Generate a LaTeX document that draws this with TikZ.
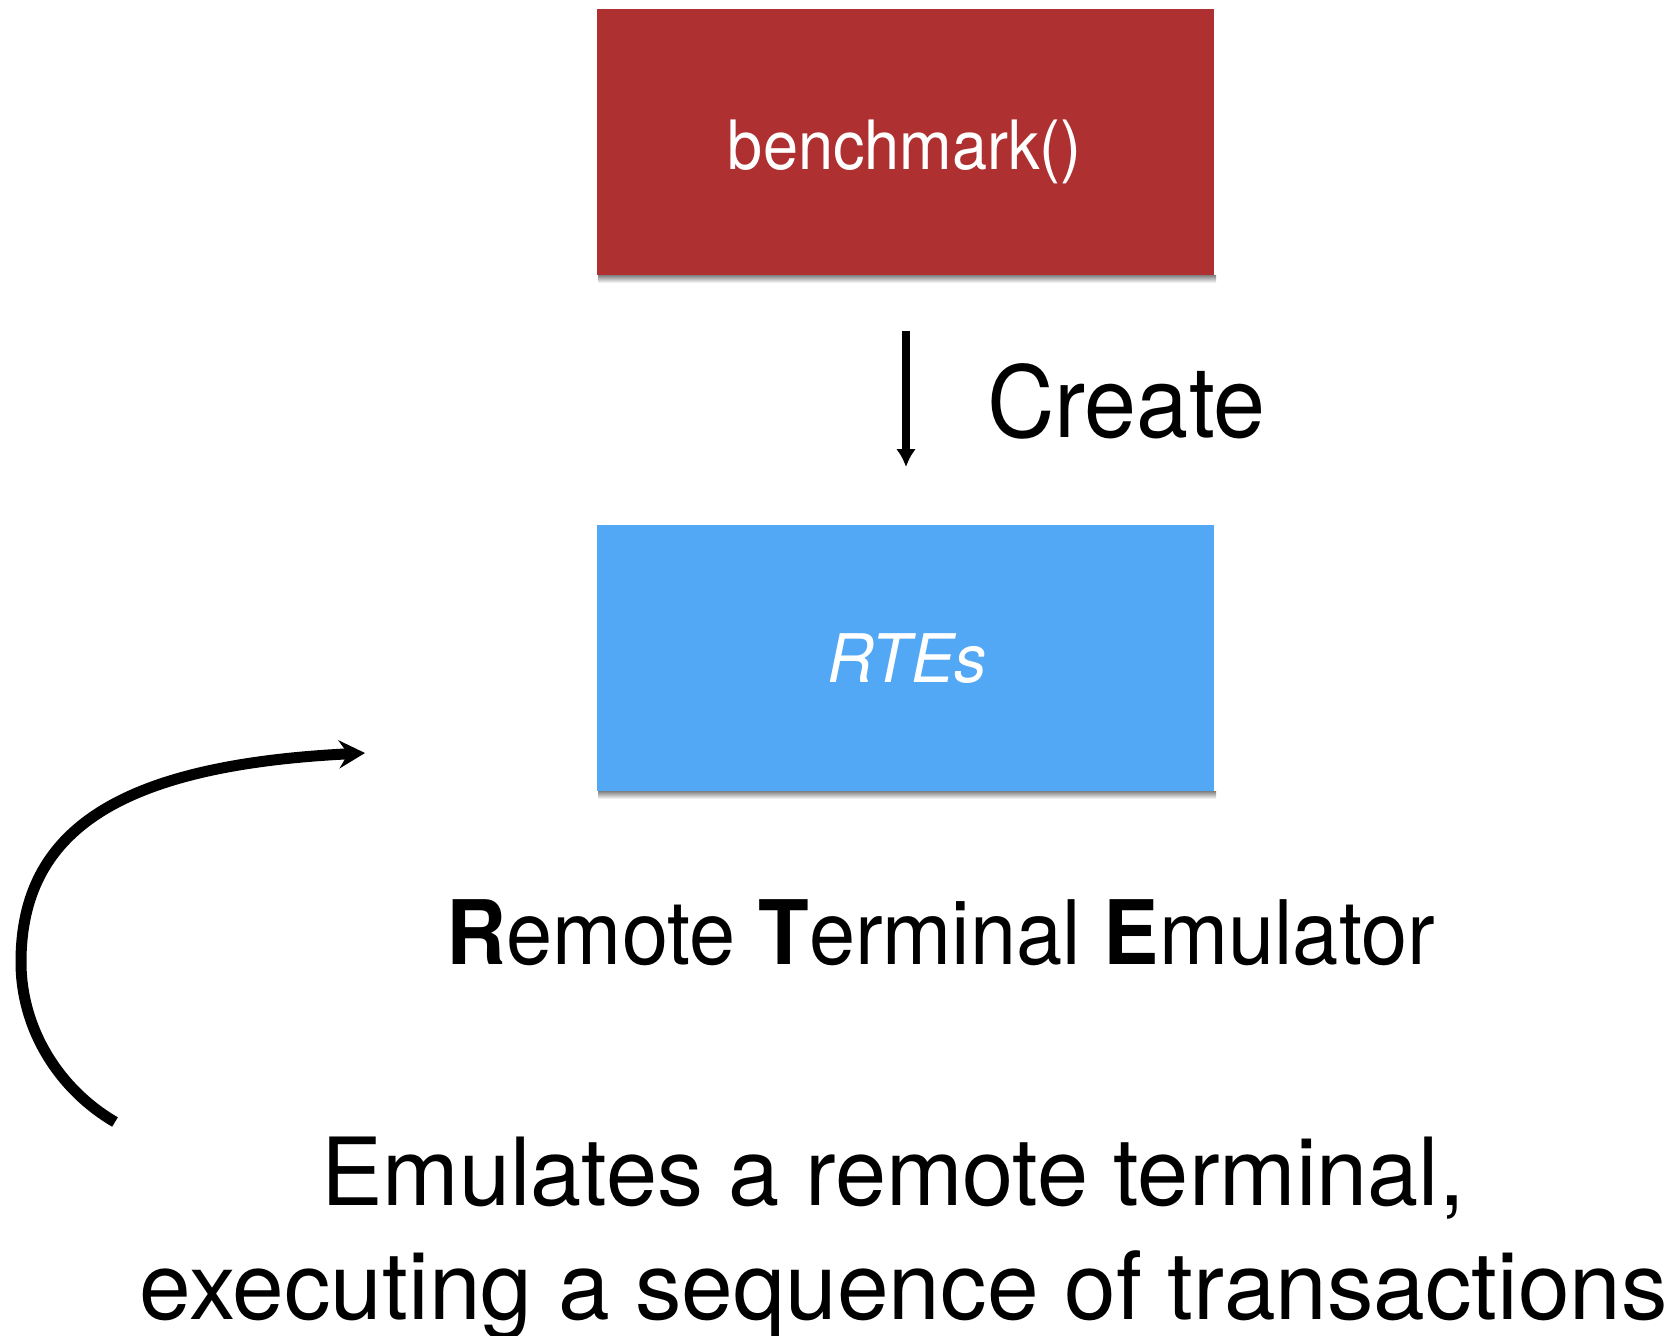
\documentclass[tikz,border=0pt]{standalone}
\usepackage{fontspec}
\setmainfont{TeX Gyre Heros}[FakeStretch=0.93]
\newfontfamily\fbench{TeX Gyre Heros}[FakeStretch=0.927]
\newfontfamily\fcreate{TeX Gyre Heros}[FakeStretch=0.945]
\newfontfamily\frtes{TeX Gyre Heros}[FakeStretch=0.963]
\newfontfamily\frte{TeX Gyre Heros}[FakeStretch=0.932]
\newfontfamily\femu{TeX Gyre Heros}[FakeStretch=0.978]
\newfontfamily\fexec{TeX Gyre Heros}[FakeStretch=0.988]
\usetikzlibrary{arrows.meta}
\definecolor{boxred}{RGB}{175,48,49}
\definecolor{boxblue}{RGB}{83,168,245}
\tikzset{
  box/.style={draw=none, minimum width=617pt, minimum height=266pt, inner sep=0pt},
  boxshadow/.style={top color=black!50, bottom color=white, draw=none},
  txt/.style={anchor=base, inner sep=0pt, text=black},
}
\begin{document}
\begin{tikzpicture}[x=1pt,y=-1pt]
\useasboundingbox (0,0) rectangle (1679,1336);
\coordinate (bsw) at (598,275);
\coordinate (bse) at (1216,283);
\coordinate (rsw) at (598,791);
\coordinate (rse) at (1216,799);
\shade[boxshadow] (bsw) rectangle (bse);
\shade[boxshadow] (rsw) rectangle (rse);
\node[box, fill=boxred] (bench) at (905.5,142) {};
\node[box, fill=boxblue] (rte) at (905.5,658) {};
\node[txt, text=white, font=\fbench\fontsize{68}{80}\selectfont] (benchtxt) at (905,169) {benchmark()};
\node[txt, text=white, font=\frtes\fontsize{67}{80}\selectfont\itshape] (rtetxt) at (907,682) {RTEs};
\coordinate (c1) at (906,331);
\coordinate (c2) at (906,467);
\draw[line width=8pt, -{Latex[length=18pt,width=20pt]}] (c1) -- (c2);
\node[txt, anchor=base west, font=\fcreate\fontsize{99}{110}\selectfont] (create) at (987,437) {Create};
\node[txt, font=\frte\fontsize{89}{100}\selectfont] (rtename) at (941,964) {\textbf{R}emote \textbf{T}erminal \textbf{E}mulator};
\node[txt, font=\femu\fontsize{94}{110}\selectfont] (line1) at (893,1205) {Emulates a remote terminal,};
\node[txt, font=\fexec\fontsize{94}{110}\selectfont] (line2) at (904,1319) {executing a sequence of transactions};
\coordinate (s) at (115,1122);
\coordinate (m) at (21,962);
\coordinate (e) at (365,753);
\draw[line width=11pt, -{Stealth[length=26pt,width=28pt,inset=9pt]}]
  (s) .. controls (60,1090) and (21,1030) .. (m)
      .. controls (21,830) and (120,765) .. (e);
\end{tikzpicture}
\end{document}
